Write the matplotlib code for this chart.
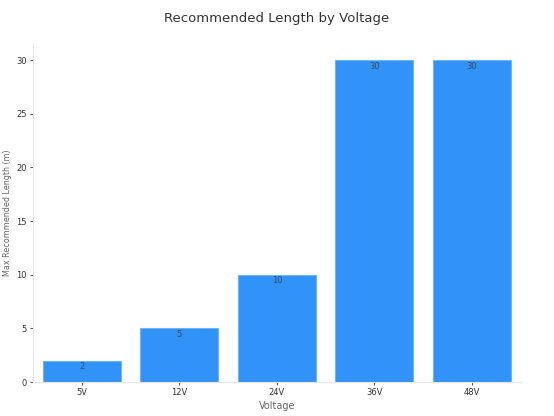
import numpy as np
import matplotlib.pyplot as plt

# data
voltages = ["5V", "12V", "24V", "36V", "48V"]
lengths = [2, 5, 10, 30, 30]

fig = plt.figure(figsize=(5.54, 4.16), dpi=100)
ax = fig.add_axes([0.0596, 0.0817, 0.8804, 0.8153])

x = np.arange(len(voltages))
bars = ax.bar(x, lengths, width=0.8, color="#3192f7", edgecolor="#6fb3f9", linewidth=0.8)

for b, v in zip(bars, lengths):
    ax.text(b.get_x() + b.get_width() / 2, v - 0.15, str(v), ha="center", va="top",
            fontsize=6, color="#3c4a5a")

ax.set_xticks(x)
ax.set_xticklabels(voltages)
ax.set_xlim(-0.5, 4.5)
ax.set_ylim(0, 31.6)
ax.set_yticks([0, 5, 10, 15, 20, 25, 30])

ax.tick_params(axis="both", labelsize=6, colors="#333333", length=2.5, width=0.6, pad=2)
for t in ax.get_xticklines() + ax.get_yticklines():
    t.set_color("#bbbbbb")

for s in ["top", "right"]:
    ax.spines[s].set_visible(False)
for s in ["left", "bottom"]:
    ax.spines[s].set_color("#e6e6e6")
    ax.spines[s].set_linewidth(0.8)

ax.set_xlabel("Voltage", fontsize=7, color="#666666", labelpad=3)
ax.set_ylabel("Max Recommended Length (m)", fontsize=5.8, color="#666666", labelpad=3)
fig.suptitle("Recommended Length by Voltage", fontsize=9.5, color="#333333", y=0.972)

plt.savefig("out.png", dpi=100)
